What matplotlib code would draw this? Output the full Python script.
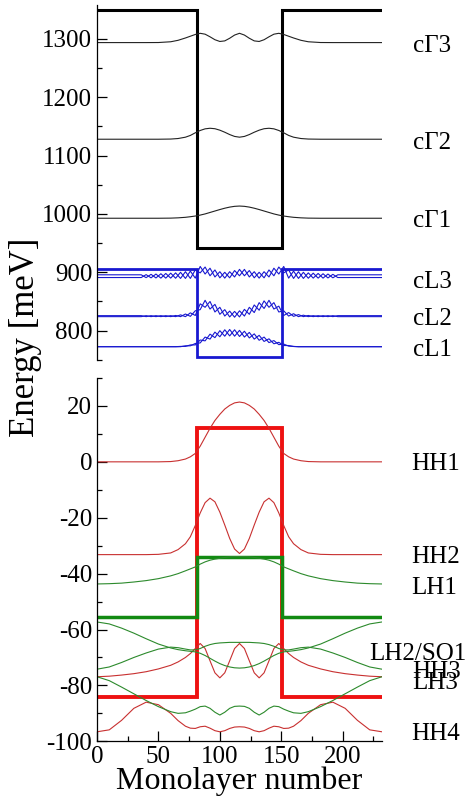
import matplotlib
matplotlib.use("Agg")
import matplotlib.pyplot as plt
import matplotlib.transforms as mtransforms
from matplotlib.ticker import MultipleLocator

# monolayer grid used for the slowly varying envelope curves
x_ml = [0, 10, 20, 30, 40, 50, 60, 66, 72, 76, 80, 84, 88, 92, 96, 100, 104, 108, 112, 116,
        120, 124, 128, 132, 136, 140, 144, 148, 152, 156, 160, 166, 172, 182, 192, 202, 212, 222, 232]

# well edges (monolayers) and band-edge levels (outside, inside) in meV
well_edges = [81, 150.5]
x_end = 232
band_gamma = (1350, 942)
band_L = (905, 754)
band_hh = (-84, 12)
band_lh = (-55.4, -34.2)

# conduction Gamma states
cG1 = [992.6, 992.6, 992.6, 992.6, 992.6, 992.6, 992.8, 993.3, 994.2, 995.2, 996.4, 998.0, 1000.0, 1002.5,
       1005.0, 1007.5, 1009.8, 1011.7, 1013.0, 1013.5, 1013.0, 1011.7, 1009.8, 1007.5, 1005.0, 1002.5,
       1000.0, 998.0, 996.4, 995.2, 994.2, 993.3, 992.8, 992.6, 992.6, 992.6, 992.6, 992.6, 992.6]
cG2 = [1128.0, 1128.0, 1128.0, 1128.0, 1128.0, 1128.0, 1128.3, 1129.2, 1131.5, 1134.5, 1139.0, 1143.0,
       1145.8, 1146.8, 1146.0, 1143.5, 1140.0, 1136.0, 1132.8, 1131.5, 1132.8, 1136.0, 1140.0, 1143.5,
       1146.0, 1146.8, 1145.8, 1143.0, 1139.0, 1134.5, 1131.5, 1129.2, 1128.3, 1128.0, 1128.0, 1128.0,
       1128.0, 1128.0, 1128.0]
cG3 = [1293.6, 1293.6, 1293.6, 1293.6, 1293.6, 1293.7, 1295.0, 1297.5, 1301.5, 1304.5, 1307.5, 1309.5,
       1308.0, 1303.5, 1298.5, 1295.5, 1296.5, 1301.0, 1306.5, 1309.5, 1306.5, 1301.0, 1296.5, 1295.5,
       1298.5, 1303.5, 1308.0, 1309.5, 1307.5, 1304.5, 1301.5, 1297.5, 1295.0, 1293.7, 1293.6, 1293.6,
       1293.6, 1293.6, 1293.6]

# valence states
hh1 = [0, 0, 0, 0, 0, 0, 0.1, 0.4, 1.0, 1.8, 3.0, 5.6, 8.8, 12.0, 14.8, 17.0, 18.9, 20.2, 21.1, 21.4,
       21.1, 20.2, 18.9, 17.0, 14.8, 12.0, 8.8, 5.6, 3.0, 1.8, 1.0, 0.4, 0.1, 0, 0, 0, 0, 0, 0]
hh2 = [-33.2, -33.2, -33.2, -33.2, -33.2, -33.1, -32.6, -31.4, -29.3, -26.8, -22.8, -18.3, -14.6, -13.0,
       -14.3, -18.0, -22.6, -27.4, -31.2, -32.8, -31.2, -27.4, -22.6, -18.0, -14.3, -13.0, -14.6, -18.3,
       -22.8, -26.8, -29.3, -31.4, -32.6, -33.1, -33.2, -33.2, -33.2, -33.2, -33.2]
lh1 = [-43.7, -43.6, -43.4, -43.0, -42.5, -41.8, -40.8, -40.0, -39.0, -38.3, -37.6, -36.6, -35.8, -35.2,
       -34.8, -34.5, -34.2, -34.0, -33.9, -33.9, -33.9, -34.0, -34.2, -34.5, -34.8, -35.2, -35.8, -36.6,
       -37.6, -38.3, -39.0, -40.0, -40.8, -41.8, -42.5, -43.0, -43.4, -43.6, -43.7]
lh2 = [-57.3, -58.0, -59.5, -61.3, -63.3, -65.2, -66.6, -67.2, -67.6, -67.8, -68.0, -68.5, -69.3, -70.3,
       -71.3, -72.2, -72.9, -73.4, -73.7, -73.8, -73.7, -73.4, -72.9, -72.2, -71.3, -70.3, -69.3, -68.5,
       -68.0, -67.8, -67.6, -67.2, -66.6, -65.2, -63.3, -61.3, -59.5, -58.0, -57.3]
so1 = [-74.2, -73.4, -71.8, -70.0, -68.4, -67.0, -66.3, -66.5, -67.0, -67.3, -67.3, -66.8, -66.0, -65.4,
       -65.0, -64.8, -64.7, -64.6, -64.6, -64.6, -64.6, -64.6, -64.7, -64.8, -65.0, -65.4, -66.0, -66.8,
       -67.3, -67.3, -67.0, -66.5, -66.3, -67.0, -68.4, -70.0, -71.8, -73.4, -74.2]
hh3 = [-76.9, -76.7, -76.3, -75.8, -75.1, -74.1, -72.8, -71.6, -70.0, -68.6, -66.8, -65.0, -66.8, -71.2,
       -75.5, -77.3, -75.5, -71.2, -66.8, -65.0, -66.8, -71.2, -75.5, -77.3, -75.5, -71.2, -66.8, -65.0,
       -66.8, -68.6, -70.0, -71.6, -72.8, -74.1, -75.1, -75.8, -76.3, -76.7, -76.9]
lh3 = [-76.9, -78.3, -80.6, -83.0, -85.4, -87.6, -89.4, -90.0, -89.8, -89.2, -88.5, -87.6, -87.4, -88.2,
       -89.6, -90.6, -89.6, -88.2, -87.5, -87.4, -87.5, -88.2, -89.6, -90.6, -89.6, -88.2, -87.4, -87.6,
       -88.5, -89.2, -89.8, -90.0, -89.4, -87.6, -85.4, -83.0, -80.6, -78.3, -76.9]
hh4 = [-96.6, -95.9, -92.5, -88.2, -86.0, -86.9, -90.0, -92.6, -94.6, -95.3, -95.4, -94.8, -94.6, -95.3,
       -96.2, -96.6, -96.2, -95.4, -94.9, -94.8, -94.9, -95.4, -96.2, -96.6, -96.2, -95.3, -94.6, -94.8,
       -95.4, -95.3, -94.6, -92.6, -90.0, -86.9, -86.0, -88.2, -92.5, -95.9, -96.6]

# L-valley pairs: upper / lower envelope of the fast oscillation, far-field levels
x_L = [36, 40, 44, 48, 52, 56, 60, 64, 68, 72, 76, 80, 84, 88, 92, 96, 100, 104, 108, 112, 116,
       120, 124, 128, 132, 136, 140, 144, 148, 152, 156, 160, 164, 168, 172, 176, 180, 184, 188, 192, 196]
cL3_up = [895.7, 896.0, 896.5, 897.0, 897.5, 898.0, 898.5, 899.0, 900.0, 901.0, 902.0, 904.0, 910.0, 909.0,
          907.0, 904.0, 901.0, 900.0, 901.0, 903.0, 905.0, 905.0, 903.0, 901.0, 900.0, 901.0, 904.0, 907.0,
          909.0, 910.0, 904.0, 902.0, 901.0, 900.0, 899.0, 898.5, 898.0, 897.5, 897.0, 896.5, 895.7]
cL3_lo = [891.0, 890.8, 890.5, 890.3, 890.0, 890.0, 890.0, 889.8, 889.5, 889.5, 889.5, 890.0, 899.0, 897.0,
          894.0, 892.0, 890.5, 890.0, 890.5, 892.0, 894.0, 894.0, 892.0, 890.5, 890.0, 890.5, 892.0, 894.0,
          897.0, 899.0, 890.0, 889.5, 889.5, 889.5, 889.8, 890.0, 890.0, 890.0, 890.3, 890.5, 891.0]
cL2_up = [825.7] * 7 + [826.0, 827.0, 828.5, 830.5, 834.0, 846.0, 852.0, 850.0, 845.0, 840.0, 836.0, 833.5,
                        833.0, 834.0, 836.5, 840.0, 844.0, 848.0, 851.0, 852.0, 848.0, 842.0, 834.0, 831.0,
                        829.0, 827.5, 826.5, 826.0] + [825.7] * 6
cL2_lo = [824.0] * 7 + [824.0, 824.0, 824.0, 824.5, 826.0, 836.0, 840.0, 837.0, 832.0, 828.0, 825.0, 823.5,
                        823.0, 823.5, 825.0, 828.0, 831.0, 835.0, 838.0, 840.0, 837.0, 832.0, 826.0, 825.0,
                        824.5, 824.0, 824.0, 824.0] + [824.0] * 6
cL1_up = [772.5] * 8 + [773.0, 774.0, 775.5, 778.0, 784.0, 789.0, 794.0, 797.5, 800.0, 801.5, 802.0, 801.5,
                        800.5, 799.0, 797.0, 794.5, 792.0, 789.0, 786.0, 783.0, 780.0, 777.0, 774.5,
                        773.0] + [772.5] * 9
cL1_lo = [772.5] * 8 + [772.5, 773.0, 774.0, 775.5, 779.0, 782.5, 785.5, 788.0, 789.5, 790.5, 791.0, 790.5,
                        790.0, 789.0, 787.5, 785.5, 783.5, 781.5, 779.5, 777.5, 776.0, 774.5, 773.5,
                        772.8] + [772.5] * 9
cL_far = {"cL3": (895.7, 891.0), "cL2": (825.7, 824.0), "cL1": (772.5, 772.5)}

top_labels = [("c\u03933", 1293), ("c\u03932", 1127), ("c\u03931", 993),
              ("cL3", 888), ("cL2", 825), ("cL1", 772)]
bot_labels = [("HH1", 0.2, 256), ("HH2", -33, 256), ("LH1", -44, 256), ("LH2/SO1", -67.8, 222),
              ("HH3", -74.2, 257), ("LH3", -78.1, 257), ("HH4", -96.2, 256)]

plt.rcParams["font.family"] = ["Liberation Serif", "DejaVu Serif"]
plt.rcParams["axes.unicode_minus"] = False

RED = "#ee1111"
GREEN = "#128a12"
BLUE = "#1818d0"
THIN_RED = "#c83030"
THIN_GREEN = "#2c8a2c"


def profile(levels):
    out, inside = levels
    xs = [0, well_edges[0], well_edges[0], well_edges[1], well_edges[1], x_end]
    ys = [out, out, inside, inside, out, out]
    return xs, ys


def zigzag(up, lo, flip):
    vals = []
    for i in range(len(up)):
        vals.append(up[i] if (i + flip) % 2 == 0 else lo[i])
    return vals


fig = plt.figure(figsize=(4.71, 7.98), dpi=100)
ax1 = fig.add_axes([97 / 471, 1 - 360 / 798, 285 / 471, 355 / 798])
ax2 = fig.add_axes([97 / 471, 1 - 741.3 / 798, 285 / 471, 363.3 / 798])

# ---- top panel: conduction band
ax1.plot(*profile(band_gamma), color="black", lw=2.2, solid_joinstyle="miter")
for c in (cG1, cG2, cG3):
    ax1.plot(x_ml, c, color="#222222", lw=0.8)
ax1.plot(*profile(band_L), color=BLUE, lw=2.0, solid_joinstyle="miter")
for name, up, lo in (("cL3", cL3_up, cL3_lo), ("cL2", cL2_up, cL2_lo), ("cL1", cL1_up, cL1_lo)):
    fa, fb = cL_far[name]
    xs = [0] + x_L + [x_end]
    ax1.plot(xs, [fa] + zigzag(up, lo, 0) + [fa], color=BLUE, lw=0.8)
    ax1.plot(xs, [fb] + zigzag(up, lo, 1) + [fb], color=BLUE, lw=0.8)

# ---- bottom panel: valence band
ax2.plot(*profile(band_hh), color=RED, lw=2.8, solid_joinstyle="miter")
ax2.plot(*profile(band_lh), color=GREEN, lw=2.5, solid_joinstyle="miter")
for c in (hh1, hh2, hh3, hh4):
    ax2.plot(x_ml, c, color=THIN_RED, lw=0.8)
for c in (lh1, lh2, so1, lh3):
    ax2.plot(x_ml, c, color=THIN_GREEN, lw=0.8)

for ax in (ax1, ax2):
    ax.set_xlim(0, x_end)
    ax.spines["top"].set_visible(False)
    ax.spines["right"].set_visible(False)
    for s in ax.spines.values():
        s.set_linewidth(0.9)
    ax.tick_params(which="major", direction="in", length=7, width=0.9, labelsize=18, pad=3.5)
    ax.tick_params(which="minor", direction="in", length=3.5, width=0.9)

ax1.set_ylim(749.7, 1358)
ax1.spines["bottom"].set_visible(False)
ax1.tick_params(axis="x", which="both", bottom=False, labelbottom=False)
ax1.yaxis.set_major_locator(MultipleLocator(100))
ax1.yaxis.set_minor_locator(MultipleLocator(50))

ax2.set_ylim(-100, 30)
ax2.yaxis.set_major_locator(MultipleLocator(20))
ax2.yaxis.set_minor_locator(MultipleLocator(10))
ax2.xaxis.set_major_locator(MultipleLocator(50))
ax2.xaxis.set_minor_locator(MultipleLocator(25))

off1 = mtransforms.offset_copy(ax1.transData, fig=fig, y=-6.5, units="points")
for txt, e in top_labels:
    ax1.text(257, e, txt, transform=off1, fontsize=18, va="baseline", ha="left", clip_on=False)
off2 = mtransforms.offset_copy(ax2.transData, fig=fig, y=-6.5, units="points")
for txt, e, xpos in bot_labels:
    ax2.text(xpos, e, txt, transform=off2, fontsize=18, va="baseline", ha="left", clip_on=False)

fig.text(0.055, 0.577, "Energy [meV]", rotation=90, ha="center", va="center", fontsize=25)
fig.text(0.507, 0.011, "Monolayer number", ha="center", va="baseline", fontsize=23)

fig.savefig("out.png", dpi=100)
